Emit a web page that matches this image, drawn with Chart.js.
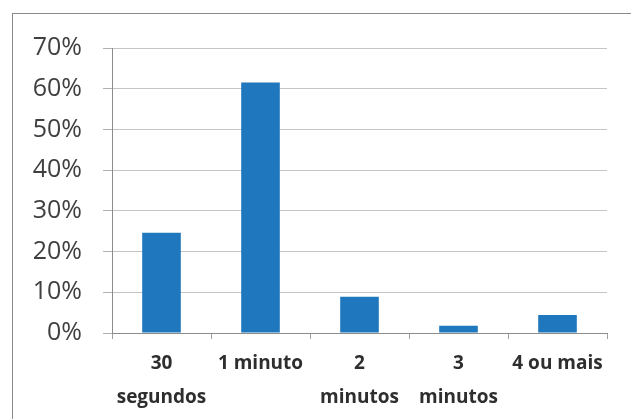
<!DOCTYPE html>
<html>
<head>
<meta charset="utf-8">
<script src="https://cdn.jsdelivr.net/npm/chart.js@4"></script>
<style>
    body { margin: 0; background: #fff; }
    #frame {
        position: absolute; left: 12px; top: 13px;
        width: 660px; height: 440px;
        border: 1px solid #8a8a8a;
    }
    #wrap { position: absolute; left: 0; top: 0; width: 631px; height: 419px; }
</style>
</head>
<body>
<div id="frame"></div>
<div id="wrap"><canvas id="chart"></canvas></div>
<script>
const categories = [['30', 'segundos'], '1 minuto', ['2', 'minutos'], ['3', 'minutos'], '4 ou mais'];
const values = [24.6, 61.5, 8.9, 1.8, 4.4];
const yTicks = [0, 10, 20, 30, 40, 50, 60, 70];

const barColor = '#1f77bd';

new Chart(document.getElementById('chart'), {
    type: 'bar',
    data: {
        labels: categories,
        datasets: [{
            data: values,
            backgroundColor: barColor,
            borderWidth: 0,
            categoryPercentage: 1,
            barPercentage: 0.39,
        }],
    },
    options: {
        responsive: true,
        maintainAspectRatio: false,
        animation: false,
        layout: { padding: { top: 48, right: 24, left: 0, bottom: 0 } },
        plugins: { legend: { display: false }, tooltip: { enabled: false } },
        scales: {
            y: {
                min: yTicks[0],
                max: yTicks[yTicks.length - 1],
                afterFit: (s) => { s.width = 112; },
                afterBuildTicks: (s) => { s.ticks = yTicks.map(v => ({ value: v })); },
                ticks: {
                    padding: 21,
                    color: '#404040',
                    font: { family: 'Open Sans', size: 25 },
                    callback: (v) => v + '%',
                },
                grid: { color: '#c4c4c4', tickLength: 9, tickColor: '#b0b0b0' },
                border: { color: '#8c8c8c' },
            },
            x: {
                afterFit: (s) => { s.height = 86; },
                ticks: {
                    padding: 7,
                    color: '#2e2e2e',
                    maxRotation: 0,
                    autoSkip: false,
                    font: { family: 'Open Sans', size: 19, weight: 'bold', lineHeight: 1.8 },
                },
                grid: { drawOnChartArea: false, offset: true, tickLength: 6, tickColor: '#a0a0a0' },
                border: { color: '#8c8c8c' },
            },
        },
    },
});
</script>
</body>
</html>
